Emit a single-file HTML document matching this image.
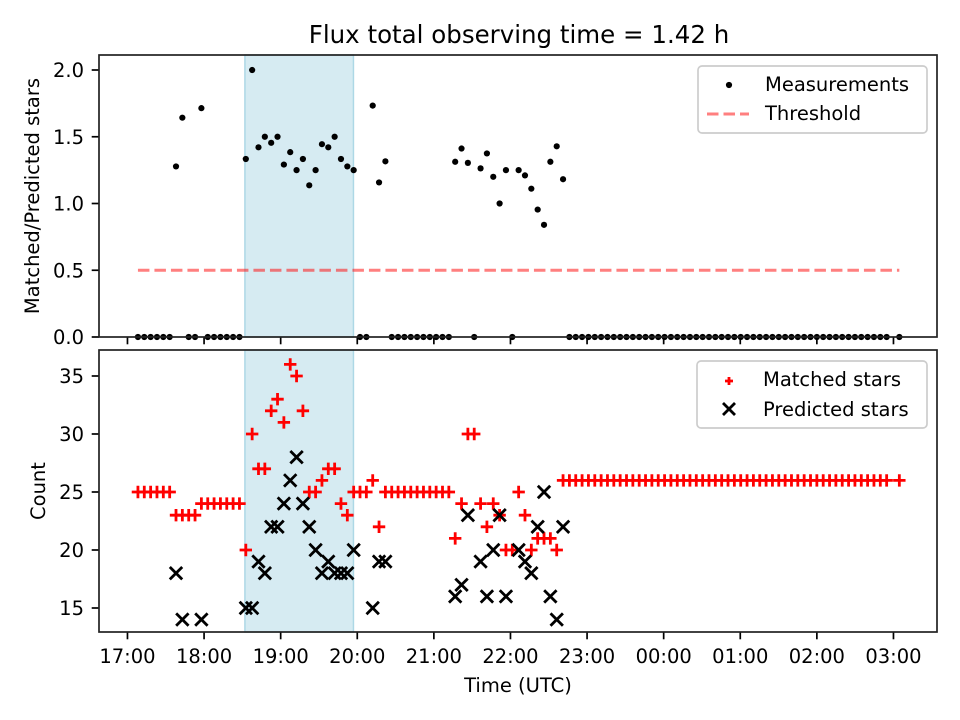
<!DOCTYPE html>
<html><head><meta charset="utf-8"><style>
html,body{margin:0;padding:0;background:#fff;}
svg{display:block;font-family:"DejaVu Sans","Liberation Sans",sans-serif;}
</style></head><body>
<svg id="fig" width="960" height="720" viewBox="0 0 960 720" xmlns="http://www.w3.org/2000/svg">
<rect width="960" height="720" fill="#fff"/>
<text x="519" y="43" font-size="24.5" text-anchor="middle">Flux total observing time = 1.42 h</text>
<g id="topPanel"></g>
<g id="botPanel"></g>
</svg>
<script>
// data: samples every ~5 min starting 17:08 UTC
const startMin = 8.2;     // minutes after 17:00
const stepMin = 4.97;
const matched = [25,25,25,25,25,25,23,23,23,23,24,24,24,24,24,24,24,20,30,27,27,32,33,31,36,35,32,25,25,26,27,27,24,23,25,25,25,26,22,25,
25,25,25,25,25,25,25,25,25,25,21,24,30,30,24,22,24,23,20,20,25,23,20,21,21,21,20,26,
26,26,26,26,26,26,26,26,26,26,
26,26,26,26,26,26,26,26,26,26,
26,26,26,26,26,26,26,26,26,26,
26,26,26,26,26,26,26,26,26,26,
26,26,26,26,26,26,26,26,26,26,
26,null,26];
const predicted = [null,null,null,null,null,null,18,14,null,null,14,null,null,null,null,null,null,15,15,19,18,22,22,24,26,28,24,22,20,18,19,18,18,18,20,null,null,15,19,19,
null,null,null,null,null,null,null,null,null,null,16,17,23,null,19,16,20,23,16,null,20,19,18,22,25,16,14,22];
const threshold = 0.5;
const spanStartMin = 92;  // 18:32
const spanEndMin = 177;   // 19:57
const xTickLabels = ["17:00","18:00","19:00","20:00","21:00","22:00","23:00","00:00","01:00","02:00","03:00"];
const topYTicks = [0.0,0.5,1.0,1.5,2.0];
const botYTicks = [15,20,25,30,35];

const NS = "http://www.w3.org/2000/svg";
const L = 99, R = 937;
const FS = 19.5, TL = 7.3, SW = 1.7;
const xMinMin = -22.3, xMaxMin = 634.1;
function xs(m){ return L + (m - xMinMin) / (xMaxMin - xMinMin) * (R - L); }
const T = {top:55, bot:337, min:0, max:2.1124};
const B = {top:350, bot:632, min:12.931, max:37.241};
function ys(ax, v){ return ax.bot - (v - ax.min) / (ax.max - ax.min) * (ax.bot - ax.top); }
function mk(tag, attrs, parent){ const e = document.createElementNS(NS, tag); for (const k in attrs) e.setAttribute(k, attrs[k]); parent.appendChild(e); return e; }
const gTop = document.getElementById('topPanel'), gBot = document.getElementById('botPanel');

function frame(g, ax, ticks, fmt, showXLabels){
  let r = mk('rect', {x: xs(spanStartMin), y: ax.top, width: xs(spanEndMin) - xs(spanStartMin), height: ax.bot - ax.top, fill: '#add8e6', 'fill-opacity': 0.5, stroke: '#add8e6', 'stroke-width': 1.5}, g);
  
  
  ticks.forEach(v => {
    const y = ys(ax, v);
    mk('line', {x1: L - TL, x2: L, y1: y, y2: y, stroke: '#000', 'stroke-width': SW}, g);
    const t = mk('text', {x: L - 15, y: y + 7, 'font-size': FS, 'text-anchor': 'end'}, g);
    t.textContent = fmt(v);
    
    
  });
  xTickLabels.forEach((lab, i) => {
    const x = xs(i * 60);
    mk('line', {x1: x, x2: x, y1: ax.bot, y2: ax.bot + TL, stroke: '#000', 'stroke-width': SW}, g);
    if (showXLabels){
      const t = mk('text', {x: x, y: ax.bot + 31, 'font-size': FS, 'text-anchor': 'middle'}, g);
      t.textContent = lab;
      
      
    }
  });
}
frame(gTop, T, topYTicks, v => v.toFixed(1), false);
frame(gBot, B, botYTicks, v => String(v), true);

// threshold line
const tl = mk('line', {x1: xs(startMin), x2: xs(startMin + (matched.length - 1) * stepMin), y1: ys(T, threshold), y2: ys(T, threshold), stroke: '#ff0000', 'stroke-opacity': 0.5, 'stroke-width': 3, 'stroke-dasharray': '11.5,5'}, gTop);



// measurements (ratio)
matched.forEach((m, i) => {
  if (m === null) return;
  const p = predicted[i];
  const ratio = (p === null || p === undefined) ? 0 : m / p;
  const c = mk('circle', {cx: xs(startMin + i * stepMin), cy: ys(T, ratio), r: 3.1, fill: '#000'}, gTop);
  
  
});
// matched stars
matched.forEach((m, i) => {
  if (m === null) return;
  const x = xs(startMin + i * stepMin), y = ys(B, m), s = 6.2;
  const p = mk('path', {d: `M${x - s},${y}H${x + s}M${x},${y - s}V${y + s}`, stroke: '#ff0000', 'stroke-width': 2.8}, gBot);
  
  
});
// predicted stars
predicted.forEach((v, i) => {
  if (v === null) return;
  const x = xs(startMin + i * stepMin), y = ys(B, v), s = 6.2;
  const p = mk('path', {d: `M${x - s},${y - s}L${x + s},${y + s}M${x - s},${y + s}L${x + s},${y - s}`, stroke: '#000', 'stroke-width': 2.8}, gBot);
  
  
});
// spines
[T, B].forEach((ax, k) => {
  const r = mk('rect', {x: L, y: ax.top, width: R - L, height: ax.bot - ax.top, fill: 'none', stroke: '#222', 'stroke-width': SW}, k ? gBot : gTop);
  
  
});
// axis labels
function label(g, txt, x, y, rot, name){
  const t = mk('text', {x: x, y: y, 'font-size': FS, 'text-anchor': 'middle'}, g);
  if (rot) t.setAttribute('transform', `rotate(-90 ${x} ${y})`);
  t.textContent = txt;
  
  
}
label(gTop, 'Matched/Predicted stars', 39, 196, true, 'y-axis-title-ratio');
label(gBot, 'Count', 45, 491, true, 'y-axis-title-count');
label(gBot, 'Time (UTC)', 518, 692, false, 'x-axis-title');

// legends
function legendBox(g, x, y, w, h){
  const r = mk('rect', {x: x, y: y, width: w, height: h, rx: 4, fill: '#fff', 'fill-opacity': 0.8, stroke: '#cccccc', 'stroke-width': 1.7}, g);
  
  
}
function legText(g, txt, x, y){
  const t = mk('text', {x: x, y: y, 'font-size': FS}, g);
  t.textContent = txt;
  
  
}
legendBox(gTop, 698, 66, 229, 67);
mk('circle', {cx: 729, cy: 85, r: 3.1, fill: '#000'}, gTop);
legText(gTop, 'Measurements', 765, 91);
mk('line', {x1: 707, x2: 749, y1: 114, y2: 114, stroke: '#ff0000', 'stroke-opacity': 0.5, 'stroke-width': 3, 'stroke-dasharray': '11.5,5'}, gTop);
legText(gTop, 'Threshold', 765, 120);
legendBox(gBot, 697, 361, 230, 67);
mk('path', {d: 'M725,381H733M729,377V385', stroke: '#ff0000', 'stroke-width': 2.8}, gBot);
legText(gBot, 'Matched stars', 763, 386);
mk('path', {d: 'M723,403L735,415M723,415L735,403', stroke: '#000', 'stroke-width': 2.8}, gBot);
legText(gBot, 'Predicted stars', 763, 416);
</script>
</body></html>
